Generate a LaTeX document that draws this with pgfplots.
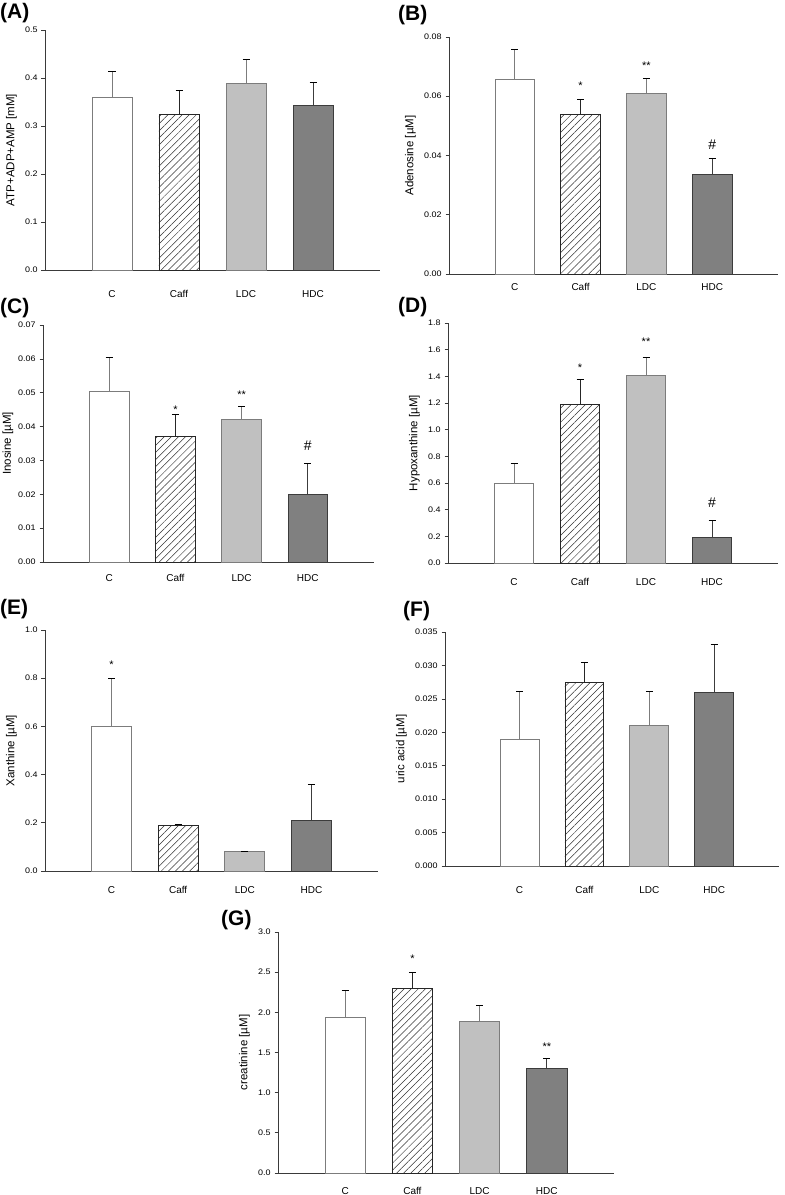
\documentclass[border=0pt]{standalone}
\usepackage{fontspec}
\setmainfont{Liberation Sans}
\usepackage{pgfplots}
\pgfplotsset{compat=1.18}
\usetikzlibrary{patterns.meta}

\definecolor{axcol}{HTML}{3A3A3A}
\definecolor{ldcfill}{HTML}{C0C0C0}
\definecolor{hdcfill}{HTML}{808080}
\definecolor{edgeC}{HTML}{7C7C7C}
\definecolor{edgeL}{HTML}{7C7C7C}
\definecolor{edgeH}{HTML}{3C3C3C}

\tikzset{
  astnode/.style={font=\fontsize{11}{12}\selectfont, yshift=-2.4pt},
  hashnode/.style={font=\fontsize{14}{15}\selectfont},
}
\pgfplotsset{
  panel/.style={
    scale only axis, anchor=south west, clip=false,
    axis lines*=left, axis line style={draw=axcol, line width=0.8pt, -},
    xmin=-1, xmax=4, xtick={0,1,2,3}, xticklabels={C,Caff,LDC,HDC},
    x tick style={draw=none},
    ymin=0, scaled y ticks=false,
    ytick align=outside, y tick style={draw=axcol, line width=0.7pt}, major tick length=3.5pt,
    tick label style={font=\fontsize{8}{9}\selectfont},
    yticklabel style={xscale=1.12},
    xticklabel style={font=\fontsize{10}{11}\selectfont, anchor=base, inner sep=0pt},
    ylabel style={font=\fontsize{11.5}{13}\selectfont},
    ylabel shift=1pt,
    /pgf/number format/assume math mode=true,
    yticklabel style={/pgf/number format/fixed, /pgf/number format/fixed zerofill},
    every axis plot/.append style={ybar, bar width=0.6, bar shift=0pt, line width=0.8pt,
      error bars/y dir=plus, error bars/y explicit,
      error bars/error bar style={line width=0.7pt},
      error bars/error mark options={rotate=90, mark size=3.5pt, line width=0.7pt}},
  },
  bC/.style={fill=white, draw=edgeC},
  bCaff/.style={pattern={Lines[angle=45, distance=5pt, line width=0.5pt]}, pattern color=black!80, draw=black!85},
  bL/.style={fill=ldcfill, draw=edgeL},
  bH/.style={fill=hdcfill, draw=edgeH},
}

\begin{document}
\begin{tikzpicture}
% (A)
\begin{axis}[panel, at={(45pt,925pt)}, width=335pt, height=240pt,
  ymax=0.5, ytick={0,0.1,0.2,0.3,0.4,0.5}, yticklabel style={/pgf/number format/precision=1},
  xticklabel style={yshift=-27.6pt}, ylabel={ATP+ADP+AMP [mM]}]
\addplot[bC] coordinates {(0,0.359) +- (0,0.055)};
\addplot[bCaff] coordinates {(1,0.324) +- (0,0.050)};
\addplot[bL] coordinates {(2,0.388) +- (0,0.050)};
\addplot[bH] coordinates {(3,0.342) +- (0,0.048)};
\end{axis}
% (B)
\begin{axis}[panel, at={(449pt,921pt)}, width=329pt, height=237pt,
  ymax=0.08, ytick={0,0.02,0.04,0.06,0.08}, yticklabel style={/pgf/number format/precision=2},
  xticklabel style={yshift=-16.6pt}, ylabel={Adenosine [µM]}]
\addplot[bC] coordinates {(0,0.0658) +- (0,0.0100)};
\addplot[bCaff] coordinates {(1,0.0540) +- (0,0.0050)};
\addplot[bL] coordinates {(2,0.0609) +- (0,0.0051)};
\addplot[bH] coordinates {(3,0.0337) +- (0,0.0055)};
\node[astnode] at (axis cs:1,0.0643) {*};
\node[astnode] at (axis cs:2,0.0710) {**};
\node[hashnode] at (axis cs:3,0.0438) {\#};
\end{axis}
% (C)
\begin{axis}[panel, at={(43pt,633pt)}, width=331pt, height=237pt,
  ymax=0.07, ytick={0,0.01,0.02,0.03,0.04,0.05,0.06,0.07}, yticklabel style={/pgf/number format/precision=2},
  xticklabel style={yshift=-19.6pt}, ylabel={Inosine [µM]}, ylabel shift=-2.5pt]
\addplot[bC] coordinates {(0,0.0505) +- (0,0.0100)};
\addplot[bCaff] coordinates {(1,0.0371) +- (0,0.0066)};
\addplot[bL] coordinates {(2,0.0420) +- (0,0.0039)};
\addplot[bH] coordinates {(3,0.0200) +- (0,0.0090)};
\node[astnode] at (axis cs:1,0.0457) {*};
\node[astnode] at (axis cs:2,0.0500) {**};
\node[hashnode] at (axis cs:3,0.0344) {\#};
\end{axis}
% (D)
\begin{axis}[panel, at={(448pt,632pt)}, width=330pt, height=240pt,
  ymax=1.8, ytick={0,0.2,0.4,0.6,0.8,1.0,1.2,1.4,1.6,1.8}, yticklabel style={/pgf/number format/precision=1},
  xticklabel style={yshift=-22.6pt}, ylabel={Hypoxanthine [µM]}]
\addplot[bC] coordinates {(0,0.598) +- (0,0.150)};
\addplot[bCaff] coordinates {(1,1.190) +- (0,0.189)};
\addplot[bL] coordinates {(2,1.406) +- (0,0.140)};
\addplot[bH] coordinates {(3,0.190) +- (0,0.132)};
\node[astnode] at (axis cs:1,1.484) {*};
\node[astnode] at (axis cs:2,1.678) {**};
\node[hashnode] at (axis cs:3,0.454) {\#};
\end{axis}
% (E)
\begin{axis}[panel, at={(45pt,324pt)}, width=333pt, height=241pt,
  ymax=1.0, ytick={0,0.2,0.4,0.6,0.8,1.0}, yticklabel style={/pgf/number format/precision=1},
  xticklabel style={yshift=-22.6pt}, ylabel={Xanthine [µM]}]
\addplot[bC] coordinates {(0,0.600) +- (0,0.200)};
\addplot[bCaff] coordinates {(1,0.190) +- (0,0.002)};
\addplot[bL] coordinates {(2,0.082) +- (0,0.001)};
\addplot[bH] coordinates {(3,0.210) +- (0,0.150)};
\node[astnode] at (axis cs:0,0.864) {*};
\end{axis}
% (F)
\begin{axis}[panel, at={(445pt,329pt)}, width=334pt, height=234pt, xmin=-1.15,
  ymax=0.035, ytick={0,0.005,0.010,0.015,0.020,0.025,0.030,0.035}, yticklabel style={/pgf/number format/precision=3},
  xticklabel style={yshift=-27.6pt}, ylabel={uric acid [µM]}]
\addplot[bC] coordinates {(0,0.0190) +- (0,0.0071)};
\addplot[bCaff] coordinates {(1,0.0275) +- (0,0.0030)};
\addplot[bL] coordinates {(2,0.0210) +- (0,0.0051)};
\addplot[bH] coordinates {(3,0.0260) +- (0,0.0071)};
\end{axis}
% (G)
\begin{axis}[panel, at={(278pt,22pt)}, width=336pt, height=241pt,
  ymax=3.0, ytick={0,0.5,1.0,1.5,2.0,2.5,3.0}, yticklabel style={/pgf/number format/precision=1},
  xticklabel style={yshift=-21pt}, ylabel={creatinine [µM]}]
\addplot[bC] coordinates {(0,1.935) +- (0,0.341)};
\addplot[bCaff] coordinates {(1,2.301) +- (0,0.200)};
\addplot[bL] coordinates {(2,1.889) +- (0,0.204)};
\addplot[bH] coordinates {(3,1.298) +- (0,0.125)};
\node[astnode] at (axis cs:1,2.697) {*};
\node[astnode] at (axis cs:3,1.606) {**};
\end{axis}
% panel letters
\begin{scope}[every node/.style={anchor=base west, inner sep=0pt, font=\fontsize{21}{24}\selectfont\bfseries}]
\node at (0pt,1176pt) {(A)};
\node at (398pt,1174pt) {(B)};
\node at (0pt,881pt) {(C)};
\node at (398pt,882pt) {(D)};
\node at (0pt,580pt) {(E)};
\node at (403pt,578pt) {(F)};
\node at (221pt,269pt) {(G)};
\end{scope}
\pgfresetboundingbox
\path[use as bounding box] (0pt,0pt) rectangle (785pt,1195pt);
\end{tikzpicture}
\end{document}
